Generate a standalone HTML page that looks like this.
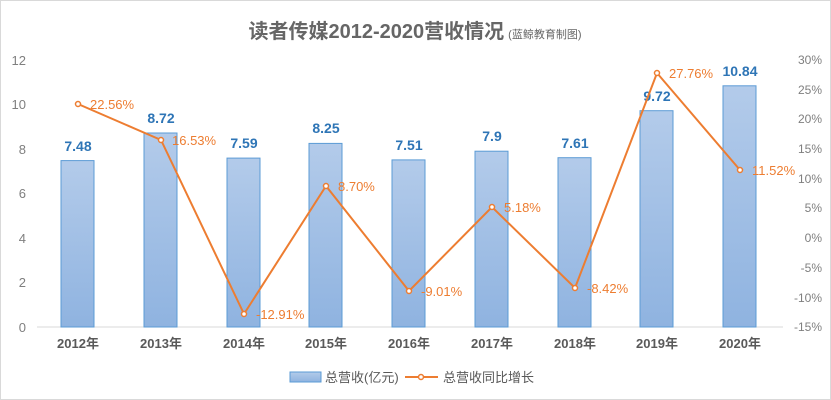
<!DOCTYPE html>
<html><head><meta charset="utf-8"><style>
body{margin:0;background:#fff}
svg{display:block;font-family:"Liberation Sans","Noto Sans CJK SC",sans-serif}
</style></head><body>
<svg width="831" height="400" viewBox="0 0 831 400">
<defs><linearGradient id="g" x1="0" y1="0" x2="0" y2="1"><stop offset="0" stop-color="#b3cbea"/><stop offset="1" stop-color="#8fb3e0"/></linearGradient></defs>
<rect x="0.5" y="0.5" width="830" height="399" fill="#fff" stroke="#d9d9d9"/>
<text x="415" y="38" text-anchor="middle" font-size="20" font-weight="bold" fill="#666">读者传媒2012-2020营收情况<tspan font-size="11" font-weight="normal" dx="4">(蓝鲸教育制图)</tspan></text>
<g font-size="13" fill="#7f7f7f" text-anchor="end">
<text x="26" y="65">12</text><text x="26" y="109">10</text><text x="26" y="154">8</text><text x="26" y="198">6</text><text x="26" y="243">4</text><text x="26" y="287">2</text><text x="26" y="332">0</text>
</g>
<g font-size="12" fill="#7f7f7f" text-anchor="end">
<text x="822" y="64">30%</text><text x="822" y="94">25%</text><text x="822" y="123">20%</text><text x="822" y="153">15%</text><text x="822" y="183">10%</text><text x="822" y="212">5%</text><text x="822" y="242">0%</text><text x="822" y="272">-5%</text><text x="822" y="302">-10%</text><text x="822" y="331">-15%</text>
</g>
<line x1="37" y1="327" x2="783" y2="327" stroke="#d9d9d9"/>
<g fill="url(#g)" stroke="#5b9bd5" stroke-width="1">
<rect x="61" y="160.6" width="33" height="166.4"/>
<rect x="144" y="133" width="33" height="194"/>
<rect x="227" y="158.1" width="33" height="168.9"/>
<rect x="309" y="143.4" width="33" height="183.6"/>
<rect x="392" y="159.9" width="33" height="167.1"/>
<rect x="475" y="151.2" width="33" height="175.8"/>
<rect x="558" y="157.7" width="33" height="169.3"/>
<rect x="640" y="110.7" width="33" height="216.3"/>
<rect x="723" y="85.8" width="33" height="241.2"/>
</g>
<g font-size="14" font-weight="bold" fill="#2e75b6" text-anchor="middle">
<text x="78" y="151">7.48</text><text x="161" y="123">8.72</text><text x="244" y="148">7.59</text><text x="326" y="133">8.25</text><text x="409" y="150">7.51</text><text x="492" y="141">7.9</text><text x="575" y="148">7.61</text><text x="657" y="101">9.72</text><text x="740" y="76">10.84</text>
</g>
<polyline fill="none" stroke="#ed7d31" stroke-width="2" points="78,104 161,140 244,314 326,186 409,291 492,207 575,288 657,73 740,170"/>
<g fill="#fff" stroke="#ed7d31" stroke-width="1.5">
<circle cx="78" cy="104" r="2.5"/><circle cx="161" cy="140" r="2.5"/><circle cx="244" cy="314" r="2.5"/><circle cx="326" cy="186" r="2.5"/><circle cx="409" cy="291" r="2.5"/><circle cx="492" cy="207" r="2.5"/><circle cx="575" cy="288" r="2.5"/><circle cx="657" cy="73" r="2.5"/><circle cx="740" cy="170" r="2.5"/>
</g>
<g font-size="13" fill="#ed7d31">
<text x="90" y="109">22.56%</text><text x="172" y="145">16.53%</text><text x="256" y="319">-12.91%</text><text x="338" y="191">8.70%</text><text x="421" y="296">-9.01%</text><text x="504" y="212">5.18%</text><text x="587" y="293">-8.42%</text><text x="669" y="78">27.76%</text><text x="752" y="175">11.52%</text>
</g>
<g font-size="13" font-weight="bold" fill="#595959" text-anchor="middle">
<text x="78" y="348">2012年</text><text x="161" y="348">2013年</text><text x="244" y="348">2014年</text><text x="326" y="348">2015年</text><text x="409" y="348">2016年</text><text x="492" y="348">2017年</text><text x="575" y="348">2018年</text><text x="657" y="348">2019年</text><text x="740" y="348">2020年</text>
</g>
<rect x="290" y="372" width="31" height="10" fill="url(#g)" stroke="#5b9bd5"/>
<text x="325" y="382" font-size="13" fill="#595959">总营收(亿元)</text>
<line x1="405" y1="377" x2="438" y2="377" stroke="#ed7d31" stroke-width="2"/>
<circle cx="421" cy="377" r="2.5" fill="#fff" stroke="#ed7d31" stroke-width="1.5"/>
<text x="443" y="382" font-size="13" fill="#595959">总营收同比增长</text>
</svg>
</body></html>
